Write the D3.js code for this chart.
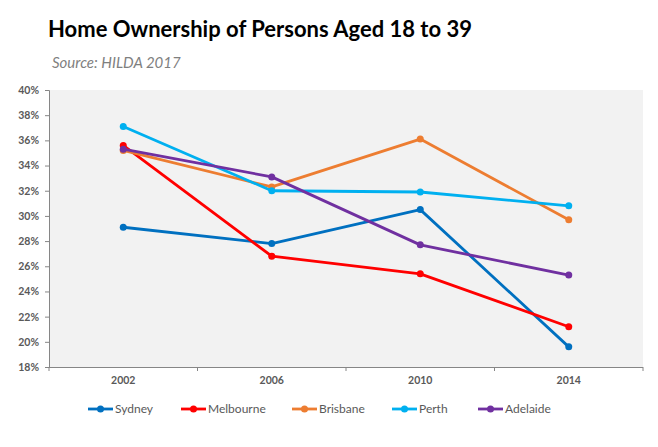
<!DOCTYPE html>
<html><head><meta charset="utf-8">
<script src="https://cdn.jsdelivr.net/npm/d3@7"></script>
<style>body{margin:0;background:#fff;} svg{display:block;font-family:Lato, "Open Sans", sans-serif;}</style>
</head><body><svg id="c" width="658" height="447"></svg>
<script>
const years = ["2002","2006","2010","2014"];
const sydney    = [29.1, 27.8, 30.5, 19.6];
const melbourne = [35.6, 26.8, 25.4, 21.2];
const brisbane  = [35.2, 32.3, 36.1, 29.7];
const perth     = [37.1, 32.0, 31.9, 30.8];
const adelaide  = [35.3, 33.1, 27.7, 25.3];
const seriesNames = ["Sydney","Melbourne","Brisbane","Perth","Adelaide"];
const seriesColors = ["#0070C0","#FF0000","#ED7D31","#00B0F0","#7030A0"];
const yTicks = [18,20,22,24,26,28,30,32,34,36,38,40];

const series = [sydney, melbourne, brisbane, perth, adelaide].map((v,i)=>({name:seriesNames[i], color:seriesColors[i], values:v}));

const svg = d3.select("#c");
const L=49, R=643, T=90, B=367;

svg.append("text").attr("x",48).attr("y",37).attr("font-size",22).attr("font-weight","bold").attr("fill","#000")
  .text("Home Ownership of Persons Aged 18 to 39");
svg.append("text").attr("x",52).attr("y",68).attr("font-size",15).attr("font-style","italic").attr("fill","#7f7f7f")
  .text("Source: HILDA 2017");

svg.append("rect").attr("x",L).attr("y",T).attr("width",R-L).attr("height",B-T).attr("fill","#f2f2f2");

const x = d3.scaleBand().domain(years).range([L,R]);
const y = d3.scaleLinear().domain([18,40]).range([B,T]);

const yAxis = svg.append("g").attr("transform",`translate(${L},0)`)
  .call(d3.axisLeft(y).tickValues(yTicks).tickFormat(d=>d+"%").tickSize(4).tickPadding(6));
const xAxis = svg.append("g").attr("transform",`translate(0,${B})`)
  .call(d3.axisBottom(x).tickSize(0).tickPadding(10));
svg.append("g").selectAll("line").data(years.concat(["end"])).join("line")
  .attr("x1",(d,i)=>L+i*x.step()).attr("x2",(d,i)=>L+i*x.step())
  .attr("y1",B).attr("y2",B+4).attr("stroke","#868686");
[yAxis,xAxis].forEach(g=>{
  g.selectAll("path,line").attr("stroke","#868686");
  g.selectAll("text").attr("fill","#595959").attr("font-size",10.5).attr("font-weight","bold").attr("font-family","Lato, sans-serif");
});
xAxis.select(".domain").attr("d",`M${L},0.5H${R}`);

const line = d3.line().x((d,i)=>x(years[i])+x.bandwidth()/2).y(d=>y(d));
const g = svg.append("g");
series.forEach(s=>{
  g.append("path").attr("d",line(s.values)).attr("fill","none").attr("stroke",s.color).attr("stroke-width",2.8).attr("stroke-linejoin","round");
  g.selectAll(null).data(s.values).join("circle")
    .attr("cx",(d,i)=>x(years[i])+x.bandwidth()/2).attr("cy",d=>y(d)).attr("r",3.5).attr("fill",s.color);
});

const legX = [88,181,292,392,478];
const lg = svg.append("g");
series.forEach((s,i)=>{
  const lx = legX[i], ly = 409;
  lg.append("line").attr("x1",lx).attr("x2",lx+25).attr("y1",ly).attr("y2",ly).attr("stroke",s.color).attr("stroke-width",2.8);
  lg.append("circle").attr("cx",lx+12.5).attr("cy",ly).attr("r",3.5).attr("fill",s.color);
  lg.append("text").attr("x",lx+27).attr("y",ly+4).attr("font-size",12).attr("fill","#595959").text(s.name);
});
</script></body></html>
